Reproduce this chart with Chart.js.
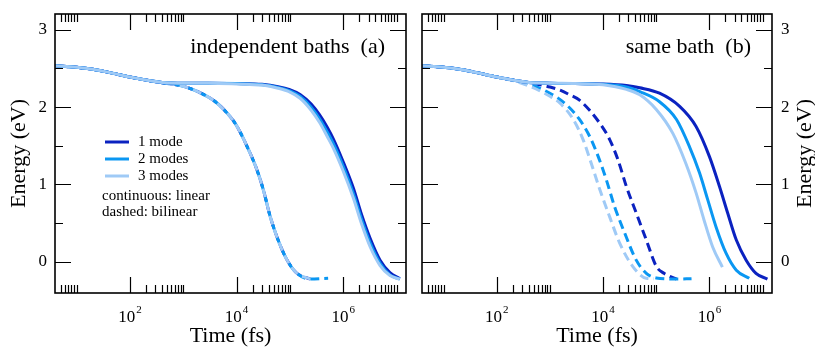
<!DOCTYPE html>
<html>
<head>
<meta charset="utf-8">
<script src="https://cdn.jsdelivr.net/npm/chart.js@4.4.1/dist/chart.umd.min.js"></script>
<style>
  body { margin: 0; background: #fff; }
  #wrap { position: relative; width: 815px; height: 347px; }
  canvas { position: absolute; top: 0; }
  #panelA { left: 0; }
  #panelB { left: 410px; }
</style>
</head>
<body>
<div id="wrap">
  <canvas id="panelA" width="410" height="347"></canvas>
  <canvas id="panelB" width="405" height="347"></canvas>
</div>
<script>
// ---- data (time in fs, energy in eV) ----
var modeLabels = ['1 mode', '2 modes', '3 modes'];
var modeColors = ['#0b22c0', '#0a97f2', '#9fcaf6'];

// (a) independent baths, linear coupling (solid)
var tSolidA = [4, 10, 20, 40, 100, 200, 400, 1000, 3000, 1e4, 3e4, 6e4, 1e5, 1.55e5, 2.5e5, 3.6e5, 5e5, 6.5e5, 1e6, 1.55e6, 2.2e6, 3.2e6, 4.9e6, 7.5e6, 1.15e7];
var solidA1 = [2.535, 2.515, 2.49, 2.45, 2.39, 2.35, 2.32, 2.31, 2.31, 2.305, 2.295, 2.265, 2.225, 2.165, 2.04, 1.90, 1.74, 1.59, 1.29, 0.95, 0.61, 0.30, 0.02, -0.14, -0.22];
var solidA2 = [2.535, 2.515, 2.49, 2.45, 2.39, 2.35, 2.32, 2.31, 2.31, 2.305, 2.29, 2.255, 2.21, 2.14, 2.00, 1.85, 1.68, 1.53, 1.23, 0.88, 0.55, 0.24, -0.02, -0.17, -0.225];
var solidA3 = [2.535, 2.515, 2.49, 2.45, 2.39, 2.35, 2.32, 2.31, 2.31, 2.30, 2.285, 2.245, 2.195, 2.115, 1.96, 1.80, 1.62, 1.47, 1.17, 0.82, 0.49, 0.19, -0.05, -0.18, -0.225];

// (a) independent baths, bilinear coupling (dashed)
var tDashA = [4, 10, 20, 40, 100, 200, 400, 1000, 2000, 4000, 7500, 1e4, 1.55e4, 2.4e4, 3.2e4, 4.2e4, 6e4, 8.7e4, 1.3e5, 2.4e5, 5.2e5];
var dashA1 = [2.535, 2.515, 2.49, 2.45, 2.39, 2.35, 2.315, 2.27, 2.19, 2.07, 1.88, 1.76, 1.50, 1.19, 0.92, 0.60, 0.28, 0.03, -0.14, -0.225];
var dashA2 = [2.535, 2.515, 2.49, 2.45, 2.39, 2.35, 2.315, 2.27, 2.19, 2.07, 1.88, 1.76, 1.50, 1.19, 0.92, 0.60, 0.28, 0.03, -0.14, -0.225, -0.215];
var dashA3 = [2.535, 2.515, 2.49, 2.45, 2.39, 2.35, 2.315, 2.27, 2.19, 2.07, 1.88, 1.76, 1.50, 1.19, 0.92, 0.60, 0.28, 0.03, -0.14, -0.225];

// (b) same bath, linear coupling (solid)
var tSolidB1 = [4, 10, 20, 40, 100, 200, 400, 1000, 3000, 1e4, 2.75e4, 4.9e4, 1.15e5, 2.75e5, 5.6e5, 1e6, 1.55e6, 2.2e6, 3.2e6, 4.9e6, 7.5e6, 1.23e7];
var solidB1 = [2.535, 2.515, 2.49, 2.45, 2.39, 2.35, 2.32, 2.31, 2.305, 2.30, 2.28, 2.25, 2.18, 2.01, 1.75, 1.36, 0.97, 0.63, 0.28, 0.02, -0.15, -0.225];
var tSolidB2 = [4, 10, 20, 40, 100, 200, 400, 1000, 3000, 1e4, 2.75e4, 4.9e4, 1.15e5, 2.4e5, 4.2e5, 6.5e5, 9.3e5, 1.33e6, 2.05e6, 3.2e6, 5.6e6];
var solidB2 = [2.535, 2.515, 2.49, 2.45, 2.39, 2.35, 2.32, 2.31, 2.305, 2.295, 2.26, 2.20, 2.07, 1.84, 1.49, 1.15, 0.80, 0.45, 0.11, -0.11, -0.215];
var tSolidB3 = [4, 10, 20, 40, 100, 200, 400, 1000, 3000, 1e4, 2.75e4, 4.9e4, 1e5, 2.05e5, 3.6e5, 5.6e5, 7.9e5, 1.15e6, 1.75e6];
var solidB3 = [2.535, 2.515, 2.49, 2.45, 2.39, 2.35, 2.32, 2.31, 2.305, 2.29, 2.23, 2.16, 1.97, 1.66, 1.27, 0.89, 0.54, 0.19, -0.07];

// (b) same bath, bilinear coupling (dashed)
var tDashB1 = [4, 10, 20, 40, 100, 200, 400, 650, 1000, 1550, 2350, 3600, 8700, 1.33e4, 1.9e4, 2.75e4, 4.2e4, 6.5e4, 1e5, 1.4e5, 1.8e5, 2.4e5];
var dashB1 = [2.535, 2.515, 2.49, 2.45, 2.39, 2.35, 2.315, 2.29, 2.26, 2.22, 2.16, 2.09, 1.79, 1.58, 1.32, 0.97, 0.63, 0.28, -0.06, -0.15, -0.19, -0.225];
var tDashB2 = [4, 10, 20, 40, 100, 200, 400, 1000, 2050, 3600, 5600, 8100, 1.15e4, 1.65e4, 2.55e4, 4.2e4, 6.5e4, 1e5, 2.4e5, 4.6e5];
var dashB2 = [2.535, 2.515, 2.49, 2.45, 2.39, 2.35, 2.30, 2.18, 2.03, 1.84, 1.62, 1.36, 1.06, 0.71, 0.37, 0.02, -0.15, -0.21, -0.225, -0.22];
var tDashB3 = [4, 10, 20, 40, 100, 200, 400, 1000, 1550, 2750, 4200, 6000, 8700, 1.33e4, 2.05e4, 3.6e4, 6.5e4, 9e4];
var dashB3 = [2.535, 2.515, 2.49, 2.45, 2.39, 2.345, 2.275, 2.14, 2.05, 1.84, 1.58, 1.27, 0.93, 0.58, 0.24, -0.06, -0.215, -0.22];

// axis ticks
var xMajorTicks = [1e2, 1e4, 1e6];
var xTickExp = ['2', '4', '6'];
var xMinorTicks = [5, 6, 7, 8, 9, 10, 200, 300, 400, 500, 600, 700, 800, 900, 1000,
  2e4, 3e4, 4e4, 5e4, 6e4, 7e4, 8e4, 9e4, 1e5, 2e6, 3e6, 4e6, 5e6, 6e6, 7e6, 8e6, 9e6, 1e7];
var yMajorTicks = [0, 1, 2, 3];
var yMinorTicks = [0.5, 1.5, 2.5];

var serif = '"Liberation Serif", "Times New Roman", serif';

function pts(ts, es) {
  return es.map(function (e, i) { return { x: ts[i], y: e }; });
}

function line(ts, es, m, dashed, off) {
  return {
    label: modeLabels[m],
    data: pts(ts, es),
    borderColor: modeColors[m],
    borderWidth: 3,
    borderDash: dashed ? [9, 5] : [],
    borderDashOffset: off || 0,
    fill: false
  };
}

var framePlugin = {
  id: 'frame',
  afterDraw: function (chart, args, o) {
    var ctx = chart.ctx, a = chart.chartArea;
    var xs = chart.scales.x, ys = chart.scales.y;
    ctx.save();
    ctx.strokeStyle = '#000';
    ctx.fillStyle = '#000';
    ctx.lineWidth = 1.2;
    ctx.beginPath();
    function xt(v, len) {
      var px = Math.round(xs.getPixelForValue(v)) + 0.5;
      ctx.moveTo(px, a.bottom); ctx.lineTo(px, a.bottom - len);
      ctx.moveTo(px, a.top); ctx.lineTo(px, a.top + len);
    }
    function yt(v, len) {
      var py = Math.round(ys.getPixelForValue(v)) + 0.5;
      ctx.moveTo(a.left, py); ctx.lineTo(a.left + len, py);
      ctx.moveTo(a.right, py); ctx.lineTo(a.right - len, py);
    }
    xMajorTicks.forEach(function (v) { xt(v, 16); });
    xMinorTicks.forEach(function (v) { xt(v, 8); });
    yMajorTicks.forEach(function (v) { yt(v, 16); });
    yMinorTicks.forEach(function (v) { yt(v, 8); });
    ctx.stroke();
    ctx.lineWidth = 1.6;
    ctx.strokeRect(a.left, a.top, a.right - a.left, a.bottom - a.top);

    // x tick labels 10^n
    xMajorTicks.forEach(function (v, i) {
      var px = xs.getPixelForValue(v);
      ctx.font = '17px ' + serif;
      var wb = ctx.measureText('10').width;
      ctx.font = '11px ' + serif;
      var we = ctx.measureText(xTickExp[i]).width;
      var left = px - (wb + we + 1) / 2;
      ctx.textAlign = 'left';
      ctx.textBaseline = 'alphabetic';
      ctx.font = '17px ' + serif;
      ctx.fillText('10', left, 322);
      ctx.font = '11px ' + serif;
      ctx.fillText(xTickExp[i], left + wb + 1, 313);
    });

    // y tick labels
    ctx.font = '17px ' + serif;
    ctx.textBaseline = 'middle';
    yMajorTicks.forEach(function (v) {
      var py = ys.getPixelForValue(v);
      if (o.side === 'left') {
        ctx.textAlign = 'right';
        ctx.fillText(String(v), a.left - 8, py);
      } else {
        ctx.textAlign = 'left';
        ctx.fillText(String(v), a.right + 9, py);
      }
    });

    // axis titles
    ctx.font = '22px ' + serif;
    ctx.textAlign = 'center';
    ctx.textBaseline = 'alphabetic';
    ctx.fillText('Time (fs)', (a.left + a.right) / 2, 342);
    ctx.save();
    ctx.translate(o.side === 'left' ? 25 : chart.width - 4, (a.top + a.bottom) / 2);
    ctx.rotate(-Math.PI / 2);
    ctx.fillText('Energy (eV)', 0, 0);
    ctx.restore();

    // panel title
    ctx.font = '22px ' + serif;
    ctx.textAlign = 'right';
    ctx.fillText(o.title, a.right - 21, 53);

    // legend (panel a only)
    if (o.legend) {
      ctx.font = '15px ' + serif;
      ctx.textAlign = 'left';
      var ly = [142, 159, 176];
      modeLabels.forEach(function (lab, i) {
        ctx.strokeStyle = modeColors[i];
        ctx.lineWidth = 3;
        ctx.beginPath();
        ctx.moveTo(105, ly[i]); ctx.lineTo(129, ly[i]);
        ctx.stroke();
        ctx.fillText(lab, 138, ly[i] + 4);
      });
      ctx.fillText('continuous: linear', 102, 200);
      ctx.fillText('dashed: bilinear', 102, 216);
    }
    ctx.restore();
  }
};

function makePanel(id, sets, o) {
  return new Chart(document.getElementById(id), {
    type: 'line',
    data: { datasets: sets },
    options: {
      responsive: false,
      animation: false,
      layout: { padding: o.pad },
      elements: { point: { radius: 0 }, line: { cubicInterpolationMode: 'monotone' } },
      plugins: { legend: { display: false }, tooltip: { enabled: false }, frame: o },
      scales: {
        x: { type: 'logarithmic', min: 3.93, max: 1.5e7, display: false },
        y: { type: 'linear', min: -0.405, max: 3.205, display: false }
      }
    },
    plugins: [framePlugin]
  });
}

makePanel('panelA', [
  line(tSolidA, solidA3, 2, false),
  line(tSolidA, solidA2, 1, false),
  line(tSolidA, solidA1, 0, false),
  line(tDashA, dashA3, 2, true, 0),
  line(tDashA, dashA2, 1, true, 5),
  line(tDashA, dashA1, 0, true, 10)
], { side: 'left', title: 'independent baths  (a)', legend: true,
     pad: { left: 55, right: 4, top: 14, bottom: 54 } });

makePanel('panelB', [
  line(tSolidB3, solidB3, 2, false),
  line(tSolidB2, solidB2, 1, false),
  line(tSolidB1, solidB1, 0, false),
  line(tDashB3, dashB3, 2, true),
  line(tDashB2, dashB2, 1, true),
  line(tDashB1, dashB1, 0, true)
], { side: 'right', title: 'same bath  (b)', legend: false,
     pad: { left: 12, right: 43, top: 14, bottom: 54 } });
</script>
</body>
</html>
